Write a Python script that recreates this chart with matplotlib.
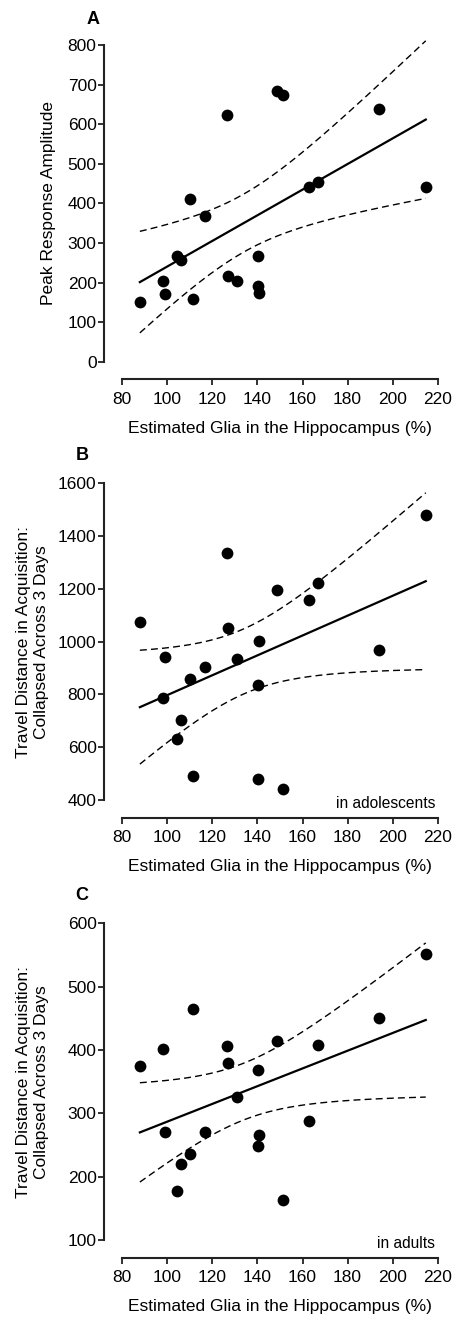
import numpy as np
import matplotlib
matplotlib.use("Agg")
import matplotlib.pyplot as plt

plt.rcParams['font.family'] = ['Liberation Sans', 'DejaVu Sans']

# Shared x values (estimated glia %)
glia = [87.8, 97.9, 98.8, 104.1, 106.0, 109.9, 111.5, 116.6, 126.3, 126.9,
        130.9, 140.1, 140.5, 140.1, 148.8, 151.2, 163.0, 166.9, 193.8, 214.7]

# Panel A: peak response amplitude
peak = [152, 204, 172, 267, 256, 410, 159, 368, 622, 216,
        205, 267, 174, 190, 684, 673, 442, 455, 639, 442]

# Panel B: travel distance in adolescents
dist_adol = [1074, 785, 942, 631, 702, 857, 492, 903, 1337, 1053,
             936, 480, 1001, 836, 1196, 440, 1158, 1221, 970, 1480]

# Panel C: travel distance in adults
dist_adult = [374, 402, 270, 177, 220, 236, 465, 270, 406, 380,
              326, 368, 265, 249, 414, 163, 288, 408, 451, 552]

xticks = [80, 100, 120, 140, 160, 180, 200, 220]
yticksA = [0, 100, 200, 300, 400, 500, 600, 700, 800]
yticksB = [400, 600, 800, 1000, 1200, 1400, 1600]
yticksC = [100, 200, 300, 400, 500, 600]

xlabel = "Estimated Glia in the Hippocampus (%)"
ylabels = ["Peak Response Amplitude",
           "Travel Distance in Acquisition:\nCollapsed Across 3 Days",
           "Travel Distance in Acquisition:\nCollapsed Across 3 Days"]
letters = ["A", "B", "C"]
notes = [None, "in adolescents", "in adults"]

T_CRIT = 2.101  # t(0.975, df=18)

W, H = 457, 1317
fig = plt.figure(figsize=(W / 100, H / 100), dpi=100)

# axes pixel boxes: (left, top, right, bottom)
boxes = [(122.3, 45.0, 437.7, 361.7),
         (122.3, 483.3, 437.7, 800.0),
         (122.3, 923.3, 437.7, 1240.0)]
letter_pos = [(93, 19), (82, 456), (82, 896)]
ylabel_x = [49, 32.5, 32.5]

panels = [(peak, yticksA), (dist_adol, yticksB), (dist_adult, yticksC)]

for i, ((yvals, yt), box) in enumerate(zip(panels, boxes)):
    l, t, r, b = box
    ax = fig.add_axes([l / W, 1 - b / H, (r - l) / W, (b - t) / H])
    x = np.array(glia, dtype=float)
    y = np.array(yvals, dtype=float)
    n = len(x)
    slope, intercept = np.polyfit(x, y, 1)
    xs = np.linspace(x.min(), x.max(), 200)
    yhat = intercept + slope * xs
    resid = y - (intercept + slope * x)
    s = np.sqrt(np.sum(resid ** 2) / (n - 2))
    sxx = np.sum((x - x.mean()) ** 2)
    se = s * np.sqrt(1.0 / n + (xs - x.mean()) ** 2 / sxx)
    ax.plot(xs, yhat, color='black', lw=1.6, clip_on=False, zorder=3)
    ax.plot(xs, yhat + T_CRIT * se, color='black', lw=1.0, ls=(0, (5, 3)), clip_on=False, zorder=2)
    ax.plot(xs, yhat - T_CRIT * se, color='black', lw=1.0, ls=(0, (5, 3)), clip_on=False, zorder=2)
    ax.scatter(x, y, s=72, color='black', zorder=4, clip_on=False, linewidths=0)

    ax.set_xlim(80, 220)
    ax.set_ylim(yt[0], yt[-1])
    ax.set_xticks(xticks)
    ax.set_yticks(yt)
    ax.tick_params(axis='both', direction='out', length=4, width=1.3, colors='#222222',
                   labelsize=12.5, labelcolor='black')
    ax.tick_params(axis='y', pad=1)
    ax.tick_params(axis='x', pad=5)
    for side in ['top', 'right']:
        ax.spines[side].set_visible(False)
    ax.spines['left'].set_position(('outward', 13.5))
    ax.spines['bottom'].set_position(('outward', 12.7))
    for side in ['left', 'bottom']:
        ax.spines[side].set_linewidth(1.5)
        ax.spines[side].set_color('#222222')
    ax.patch.set_visible(False)

    ax.set_xlabel(xlabel, fontsize=12.5, va='center')
    ax.xaxis.set_label_coords(0.5, -66.5 / (b - t))
    ax.set_ylabel(ylabels[i], fontsize=12.5, va='center', linespacing=1.2)
    ax.yaxis.set_label_coords((ylabel_x[i] - l) / (r - l), 0.5)

    lx, ly = letter_pos[i]
    fig.text(lx / W, 1 - ly / H, letters[i], fontsize=13, fontweight='bold',
             ha='center', va='center')
    if notes[i]:
        ax.annotate(notes[i], xy=(220, yt[0]), xycoords='data',
                    xytext=(-2, -2.5), textcoords='offset points',
                    fontsize=11.2, ha='right', va='center')

fig.savefig("out.png", dpi=100)
